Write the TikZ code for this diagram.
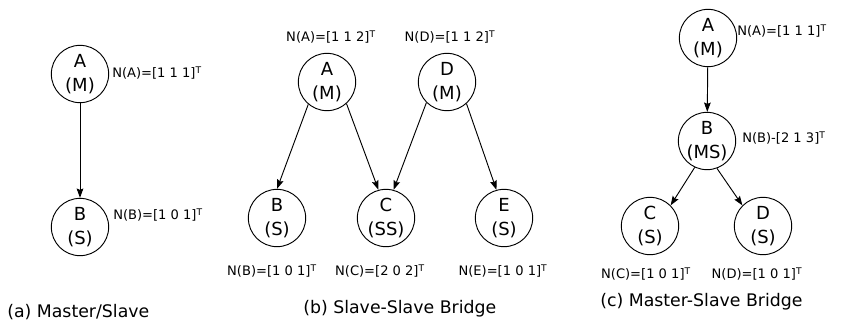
\documentclass[tikz,border=0pt]{standalone}
\usepackage{fontspec}
\setmainfont{DejaVu Sans}
\usetikzlibrary{arrows.meta,positioning}

\tikzset{
  station/.style={draw, circle, line width=0.7pt, minimum size=43pt, inner sep=0pt,
    align=center, font=\fontsize{13.5}{17.5}\selectfont},
  vec/.style={font=\fontsize{9.8}{12}\selectfont, inner sep=0pt},
  caption/.style={font=\fontsize{13}{15}\selectfont, anchor=west, inner sep=0pt},
  link/.style={-{Stealth[length=7pt,width=5pt,inset=1pt]}, line width=0.7pt}
}
\newcommand{\nvec}[2]{N(#1)=[#2]\textsuperscript{T}}

\begin{document}
\begin{tikzpicture}[x=0.75pt, y=-0.75pt]
    \useasboundingbox (0,0) rectangle (841,325);
    % (a) Master/Slave
    \node [station] (aA) at (80, 74) {A\\(M)};
    \node [station] (aB) at (80, 227) {B\\(S)};
    \node [vec, anchor=west] (naA) at (112, 73) {\nvec{A}{1 1 1}};
    \node [vec, anchor=west] (naB) at (113, 215) {\nvec{B}{1 0 1}};
    \draw [link] (aA) -- (aB);
    \node [caption] (capa) at (7, 312) {(a) Master/Slave};
    % (b) Slave-Slave Bridge
    \node [station] (bA) at (327, 82) {A\\(M)};
    \node [station] (bD) at (447, 82) {D\\(M)};
    \node [station] (bB) at (277, 218) {B\\(S)};
    \node [station] (bC) at (386, 218) {C\\(SS)};
    \node [station] (bE) at (504, 218) {E\\(S)};
    \node [vec] (nbA) at (331, 37) {\nvec{A}{1 1 2}};
    \node [vec] (nbD) at (450, 37) {\nvec{D}{1 1 2}};
    \node [vec] (nbB) at (272, 271) {\nvec{B}{1 0 1}};
    \node [vec] (nbC) at (380, 271) {\nvec{C}{2 0 2}};
    \node [vec] (nbE) at (503, 271) {\nvec{E}{1 0 1}};
    \draw [link] (bA.-130) -- (bB.north);
    \draw [link] (bA.-48) -- (bC.105);
    \draw [link] (bD.-135) -- (bC.75);
    \draw [link] (bD.-48) -- (bE.105);
    \node [caption] (capb) at (303, 309) {(b) Slave-Slave Bridge};
    % (c) Master-Slave Bridge
    \node [station] (cA) at (708, 38) {A\\(M)};
    \node [station] (cB) at (707, 141) {B\\(MS)};
    \node [station] (cC) at (650, 226) {C\\(S)};
    \node [station] (cD) at (763, 226) {D\\(S)};
    \node [vec, anchor=west] (ncA) at (737, 31) {\nvec{A}{1 1 1}};
    \node [vec, anchor=west] (ncB) at (742, 138) {N(B)-[2 1 3]\textsuperscript{T}};
    \node [vec] (ncC) at (646, 274) {\nvec{C}{1 0 1}};
    \node [vec] (ncD) at (757, 274) {\nvec{D}{1 0 1}};
    \draw [link] (cA) -- (cB);
    \draw [link] (cB.-115) -- (cC.45);
    \draw [link] (cB.-70) -- (cD.135);
    \node [caption] (capc) at (600, 302) {(c) Master-Slave Bridge};
\end{tikzpicture}
\end{document}
